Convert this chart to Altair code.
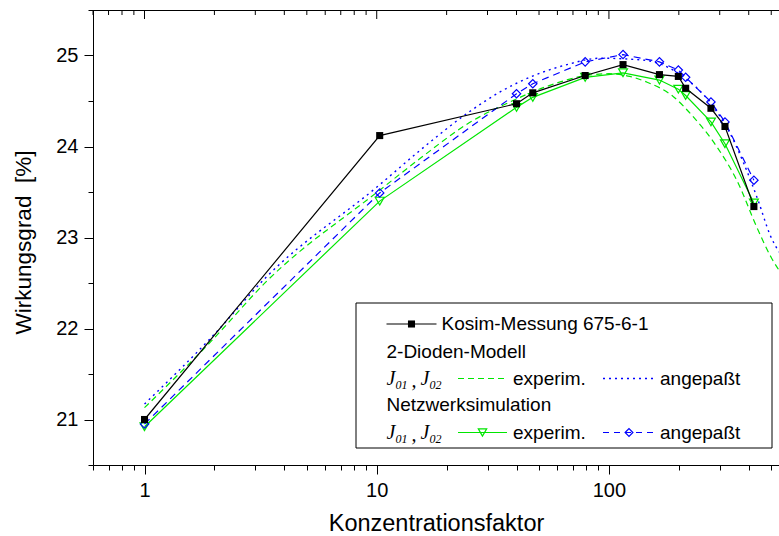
import altair as alt
import pandas as pd

# ---------------- data ----------------
meas_x = [1, 10.3, 40, 47, 79, 115, 165, 199, 214, 275, 316, 421]
kosim_y = [21.00, 24.12, 24.47, 24.59, 24.78, 24.90, 24.79, 24.77, 24.64, 24.42, 24.22, 23.34]
netz_exp_y = [20.92, 23.40, 24.43, 24.54, 24.76, 24.81, 24.73, 24.63, 24.56, 24.27, 24.03, 23.38]
netz_fit_y = [20.95, 23.49, 24.58, 24.69, 24.93, 25.01, 24.93, 24.84, 24.76, 24.49, 24.27, 23.63]

dio_exp_x = [1, 1.92, 3.36, 10.3, 15.4, 25, 37.5, 54, 80, 100, 123, 145, 189, 230, 291, 360, 432, 500, 540]
dio_exp_y = [21.13, 21.85, 22.52, 23.52, 23.87, 24.26, 24.49, 24.66, 24.78, 24.80, 24.77, 24.71, 24.55, 24.33, 24.00, 23.60, 23.12, 22.78, 22.64]

dio_fit_x = [1, 1.92, 3.36, 10.3, 15.4, 25, 34, 66, 91.5, 140, 200, 281, 330, 380, 440, 494, 540]
dio_fit_y = [21.17, 21.89, 22.57, 23.58, 23.96, 24.38, 24.60, 24.90, 24.97, 24.95, 24.80, 24.44, 24.16, 23.82, 23.40, 23.03, 22.84]

x_major = [1, 10, 100]
x_minor = [0.6, 0.7, 0.8, 0.9, 2, 3, 4, 5, 6, 7, 8, 9,
           20, 30, 40, 50, 60, 70, 80, 90, 200, 300, 400, 500]
y_ticks = [20.5, 21, 21.5, 22, 22.5, 23, 23.5, 24, 24.5, 25, 25.5]

# ---------------- styling ----------------
W, H = 686, 455
GREEN = "#00e600"
BLUE = "#0000ff"
SANS = "Liberation Sans"
SERIF = "Liberation Serif"

x_scale = alt.Scale(type="log", domain=[0.6, 540], nice=False)
y_scale = alt.Scale(domain=[20.5, 25.5], nice=False, zero=False)

all_x_ticks = sorted(x_major + x_minor)
major_test = "datum.value == 1 || datum.value == 10 || datum.value == 100"

x_axis = alt.Axis(
    orient="bottom", values=all_x_ticks, title="Konzentrationsfaktor",
    labelExpr=f"({major_test}) ? format(datum.value, 'd') : ''",
    tickSize={"condition": {"test": major_test, "value": 9}, "value": 5},
    labelOverlap=False, labelFlush=False, labelPadding=6,
    labelFontSize=20, titleFontSize=23.5, titleFontWeight="normal",
    titleBaseline="alphabetic", titleY=65, grid=False,
)
y_axis = alt.Axis(
    orient="left", values=y_ticks, title="Wirkungsgrad\u00a0\u00a0[%]",
    labelExpr="datum.value % 1 == 0 ? format(datum.value, 'd') : ''",
    tickSize={"condition": {"test": "datum.value % 1 == 0", "value": 9}, "value": 5},
    labelOverlap=False, labelFlush=False, labelPadding=6,
    labelFontSize=20, titleFontSize=22.5, titleFontWeight="normal",
    titleBaseline="alphabetic", titleX=-63, titleY=232, titleAlign="center",
    grid=False,
)


def X(field):
    return alt.X(f"{field}:Q", scale=x_scale, axis=x_axis)


def Y(field):
    return alt.Y(f"{field}:Q", scale=y_scale, axis=y_axis)


meas = pd.DataFrame({"x": meas_x, "kosim": kosim_y, "nexp": netz_exp_y, "nfit": netz_fit_y})
dexp = pd.DataFrame({"x": dio_exp_x, "y": dio_exp_y})
dfit = pd.DataFrame({"x": dio_fit_x, "y": dio_fit_y})

layers = []
# 2-Dioden-Modell, experim. (green dashed)
layers.append(alt.Chart(dexp).mark_line(color=GREEN, strokeWidth=1.2, strokeDash=[6, 4], interpolate="monotone")
              .encode(x=X("x"), y=Y("y")))
# 2-Dioden-Modell, angepasst (blue dotted)
layers.append(alt.Chart(dfit).mark_line(color=BLUE, strokeWidth=1.4, strokeDash=[2, 4], interpolate="monotone")
              .encode(x=X("x"), y=Y("y")))
# Netzwerksimulation experim. (green solid + open down triangles)
layers.append(alt.Chart(meas).mark_line(color=GREEN, strokeWidth=1.2).encode(x=X("x"), y=Y("nexp")))
layers.append(alt.Chart(meas).mark_point(shape="triangle-down", color=GREEN, filled=False, size=80, strokeWidth=1.2, opacity=1)
              .encode(x=X("x"), y=Y("nexp")))
# Netzwerksimulation angepasst (blue dashed + open diamonds)
layers.append(alt.Chart(meas).mark_line(color=BLUE, strokeWidth=1.2, strokeDash=[7, 5]).encode(x=X("x"), y=Y("nfit")))
layers.append(alt.Chart(meas).mark_point(shape="diamond", color=BLUE, filled=False, size=70, strokeWidth=1.2, opacity=1)
              .encode(x=X("x"), y=Y("nfit")))
# Kosim-Messung (black + filled squares)
layers.append(alt.Chart(meas).mark_line(color="black", strokeWidth=1.2).encode(x=X("x"), y=Y("kosim")))
layers.append(alt.Chart(meas).mark_point(shape="square", color="black", filled=True, size=50, opacity=1)
              .encode(x=X("x"), y=Y("kosim")))

# top frame line and inward ticks on top
dummy = pd.DataFrame({"d": [0]})
layers.append(alt.Chart(dummy).mark_rule(color="black", strokeWidth=1)
              .encode(x=alt.value(0), x2=alt.value(W), y=alt.value(0.5)))
layers.append(alt.Chart(pd.DataFrame({"v": x_major})).mark_rule(color="black", strokeWidth=1)
              .encode(x=X("v"), y=alt.value(0), y2=alt.value(9)))
layers.append(alt.Chart(pd.DataFrame({"v": x_minor})).mark_rule(color="black", strokeWidth=1)
              .encode(x=X("v"), y=alt.value(0), y2=alt.value(5)))

# ---------------- legend (manual) ----------------
LX0, LX1, LY0, LY1 = 263, 679, 293, 438
layers.append(alt.Chart(dummy).mark_rect(fill="white", stroke="black", strokeWidth=1)
              .encode(x=alt.value(LX0), x2=alt.value(LX1), y=alt.value(LY0), y2=alt.value(LY1)))


def vtext(txt, px, py, size=19, font=SANS, style="normal"):
    return alt.Chart(dummy).mark_text(text=txt, align="left", baseline="middle", font=font,
                                      fontSize=size, fontStyle=style, color="black").encode(
        x=alt.value(px), y=alt.value(py))


def vrule(x1, x2, py, color, dash=None, width=1.2):
    kw = dict(color=color, strokeWidth=width)
    if dash:
        kw["strokeDash"] = dash
    return alt.Chart(dummy).mark_rule(**kw).encode(x=alt.value(x1), x2=alt.value(x2), y=alt.value(py))


def vsym(px, py, shape, color, filled, size):
    return alt.Chart(dummy).mark_point(shape=shape, color=color, filled=filled, size=size,
                                       strokeWidth=1.2, opacity=1).encode(x=alt.value(px), y=alt.value(py))


def jgroup(px, py):
    out = []
    out.append(vtext("J", px, py, size=20, font=SERIF, style="italic"))
    out.append(vtext("01", px + 9, py + 6, size=12, font=SERIF, style="italic"))
    out.append(vtext(",", px + 25, py + 2, size=20, font=SERIF, style="italic"))
    out.append(vtext("J", px + 34, py, size=20, font=SERIF, style="italic"))
    out.append(vtext("02", px + 43, py + 6, size=12, font=SERIF, style="italic"))
    return out


r1, r2, r3, r4, r5 = 314, 341.5, 368.5, 395, 422.5
TX = 293.5
layers.append(vrule(TX, 343.5, r1, "black"))
layers.append(vsym(318.5, r1, "square", "black", True, 50))
layers.append(vtext("Kosim-Messung 675-6-1", 348.5, r1))
layers.append(vtext("2-Dioden-Modell", TX, r2))
layers += jgroup(TX, r3)
layers.append(vrule(365, 414, r3, GREEN, [6, 4]))
layers.append(vtext("experim.", 420, r3))
layers.append(vrule(510, 560, r3, BLUE, [2, 4], 1.4))
layers.append(vtext("angepaßt", 567, r3))
layers.append(vtext("Netzwerksimulation", TX, r4))
layers += jgroup(TX, r5)
layers.append(vrule(365, 414, r5, GREEN))
layers.append(vsym(389.5, r5, "triangle-down", GREEN, False, 70))
layers.append(vtext("experim.", 420, r5))
layers.append(vrule(510, 560, r5, BLUE, [6, 5]))
layers.append(vsym(536, r5, "diamond", BLUE, False, 60))
layers.append(vtext("angepaßt", 567, r5))

chart = alt.layer(*layers).properties(
    width=W, height=H,
    padding={"left": 93, "top": 10, "right": 0, "bottom": 71},
    autosize=alt.AutoSizeParams(type="none"),
    background="white",
).configure_view(stroke=None).configure_axis(
    labelFont=SANS, titleFont=SANS, labelColor="black", titleColor="black",
    domainColor="black", tickColor="black", domainWidth=1, tickWidth=1,
)

chart.save("out.html", embed_options={"renderer": "svg", "actions": False})
